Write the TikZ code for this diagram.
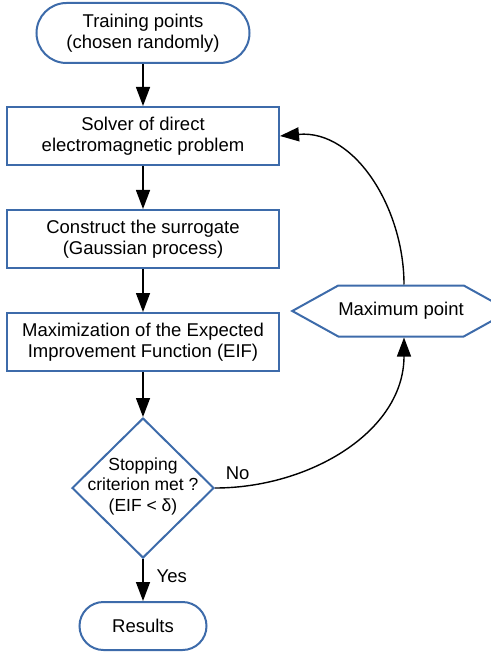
\documentclass[tikz,border=0pt]{standalone}
\usepackage{fontspec}
\setmainfont{Liberation Sans}
\usetikzlibrary{shapes.geometric,shapes.symbols,arrows.meta}
\definecolor{bord}{HTML}{3D6BAA}
\begin{document}
\begin{tikzpicture}[x=1pt,y=-1pt,
  every node/.style={font=\fontsize{18.5}{21}\selectfont, align=center, inner sep=0pt},
  term/.style={draw=bord, line width=2pt, rectangle},
  procbox/.style={draw=bord, line width=2pt, rectangle, minimum width=272pt, minimum height=58pt},
  decis/.style={draw=bord, line width=2pt, diamond, aspect=1, minimum width=142pt, minimum height=140pt},
  hexa/.style={draw=bord, line width=2pt, signal, signal to=west and east, signal pointer angle=58, minimum width=177pt, minimum height=51pt},
  arr/.style={line width=1.4pt, -{Triangle[length=19pt,width=14pt]}},
  lbl/.style={font=\fontsize{18.5}{20}\selectfont}
]
\useasboundingbox (0,0) rectangle (490,652);
\node[term, rounded corners=30pt, minimum width=213pt, minimum height=60pt] (start) at (143,33) {Training points\\(chosen randomly)};
\node[procbox] (solver) at (143,136) {Solver of direct\\electromagnetic problem};
\node[procbox] (surr) at (143,239) {Construct the surrogate\\(Gaussian process)};
\node[procbox] (maxim) at (143,342) {Maximization of the Expected\\Improvement Function (EIF)};
\node[decis] (stop) at (143,488) {};
\node[font=\fontsize{17.5}{20.5}\selectfont] (stoptxt) at ([yshift=2pt]stop.center) {Stopping\\criterion met ?\\(EIF < δ)};
\node[term, rounded corners=24pt, minimum width=127pt, minimum height=48pt] (res) at (143,626) {Results};
\node[hexa] (maxpt) at (401,311) {Maximum point};
\draw[arr] (start) -- (solver);
\draw[arr] (solver) -- (surr);
\draw[arr] (surr) -- (maxim);
\draw[arr] (maxim) -- (stop);
\draw[arr] (stop) -- (res) node[lbl, pos=0.4, right=13pt] {Yes};
\draw[arr] (stop.east) to[out=0, in=-90] node[lbl, pos=0.08, above=7pt] {No} ([xshift=3pt]maxpt.south);
\draw[arr] ([xshift=3pt]maxpt.north) to[out=90, in=5] (solver.east);
\end{tikzpicture}
\end{document}
